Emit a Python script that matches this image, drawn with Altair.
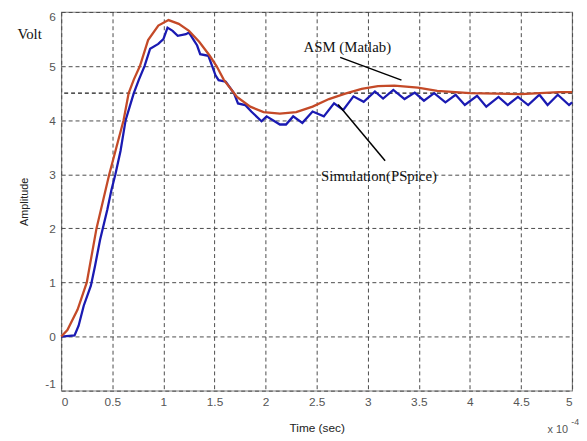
import altair as alt
import pandas as pd

# ASM (Matlab) curve, time in units of 1e-4 s
asm_t = [0, 0.06, 0.16, 0.25, 0.345, 0.47, 0.54, 0.61, 0.66, 0.71, 0.77, 0.85, 0.95, 1.05,
         1.15, 1.25, 1.35, 1.45, 1.52, 1.59, 1.72, 1.85, 1.98, 2.14, 2.30, 2.46, 2.62,
         2.78, 2.94, 3.10, 3.26, 3.49, 3.68, 4.0, 4.5, 4.87, 5.0]
asm_v = [0, 0.12, 0.5, 1.0, 2.0, 3.0, 3.5, 4.0, 4.5, 4.75, 5.0, 5.48, 5.75, 5.85,
         5.78, 5.65, 5.45, 5.2, 5.0, 4.75, 4.43, 4.25, 4.15, 4.12, 4.15, 4.25, 4.39,
         4.49, 4.58, 4.63, 4.64, 4.6, 4.54, 4.5, 4.48, 4.52, 4.52]

# Simulation (PSpice) curve
sim_t = [0, 0.13, 0.17, 0.22, 0.29, 0.33, 0.38, 0.45, 0.49, 0.53, 0.58, 0.63, 0.67, 0.71,
         0.76, 0.815, 0.87, 0.95, 1.0, 1.04, 1.09, 1.14, 1.22, 1.25, 1.33, 1.36, 1.44,
         1.51, 1.54, 1.61, 1.69, 1.73, 1.80, 1.86, 1.96, 2.01, 2.14, 2.20, 2.27, 2.36,
         2.46, 2.57, 2.67, 2.76, 2.86, 2.96, 3.07, 3.15, 3.25, 3.36, 3.46, 3.55, 3.65,
         3.76, 3.86, 3.95, 4.07, 4.16, 4.28, 4.37, 4.47, 4.57, 4.68, 4.76, 4.86, 4.97, 5.0]
sim_v = [0, 0.02, 0.2, 0.57, 0.94, 1.3, 1.79, 2.34, 2.7, 3.0, 3.43, 4.0, 4.25, 4.5,
         4.75, 5.0, 5.32, 5.41, 5.5, 5.71, 5.65, 5.56, 5.59, 5.62, 5.38, 5.22, 5.19,
         4.83, 4.74, 4.71, 4.5, 4.31, 4.28, 4.16, 3.98, 4.07, 3.92, 3.92, 4.07, 3.95,
         4.16, 4.07, 4.31, 4.19, 4.44, 4.34, 4.53, 4.40, 4.56, 4.39, 4.51, 4.36, 4.5,
         4.33, 4.47, 4.28, 4.45, 4.25, 4.43, 4.28, 4.43, 4.28, 4.47, 4.28, 4.47, 4.28, 4.33]

x_ticks = [0, 0.5, 1, 1.5, 2, 2.5, 3, 3.5, 4, 4.5, 5]
y_ticks = [-1, 0, 1, 2, 3, 4, 5, 6]

ref_level = [4.5]

notes_label = ["Volt", "ASM (Matlab)", "Simulation(PSpice)"]
notes_t = [-0.31, 2.8, 3.11]
notes_v = [5.6, 5.36, 2.97]

arrow_t = [2.73, 2.71]
arrow_v = [5.16, 4.29]
arrow_t2 = [3.33, 3.17]
arrow_v2 = [4.74, 3.25]

asm = pd.DataFrame({"t": asm_t, "v": asm_v})
sim = pd.DataFrame({"t": sim_t, "v": sim_v})
notes = pd.DataFrame({"t": notes_t, "v": notes_v, "label": notes_label})
arrows = pd.DataFrame({"t": arrow_t, "v": arrow_v, "t2": arrow_t2, "v2": arrow_v2})
ref = pd.DataFrame({"t": [0], "v": ref_level})
mult = pd.DataFrame({"t": [4.86], "v": [-1.73], "label": ["x 10"]})
expo = pd.DataFrame({"t": [5.03], "v": [-1.58], "label": ["-4"]})

xs = alt.Scale(domain=[0, 5], nice=False, zero=False)
ys = alt.Scale(domain=[-1, 6], nice=False, zero=False)

x_axis = alt.Axis(values=x_ticks, format="~g", title="Time (sec)", grid=True, gridDash=[4, 3],
                  gridColor="#4a4a4a", gridWidth=1, domain=False, ticks=False,
                  labelColor="#555555", labelFont="Liberation Sans", labelFontSize=12,
                  labelPadding=6, titleFont="Liberation Sans", titleFontSize=12,
                  titleFontWeight="normal", titleColor="#222222", titleY=32,
                  titleBaseline="top")
y_axis = alt.Axis(values=y_ticks, format="~g", title="Amplitude", grid=True, gridDash=[4, 3],
                  gridColor="#4a4a4a", gridWidth=1, domain=False, ticks=False,
                  labelExpr="replace(datum.label, '\u2212', '-')",
                  labelColor="#555555", labelFont="Liberation Sans", labelFontSize=12,
                  labelPadding=6, labelFlush=True, titleFont="Liberation Sans", titleFontSize=11,
                  titleFontWeight="normal", titleColor="#222222", titleX=-37,
                  titleY=192, titleAngle=-90, titleBaseline="middle", titleAlign="center")

X = alt.X("t:Q", scale=xs, axis=x_axis)
Y = alt.Y("v:Q", scale=ys, axis=y_axis)

red = alt.Chart(asm).mark_line(color="#c44a28", strokeWidth=2.3).encode(x=X, y=Y)
blue = alt.Chart(sim).mark_line(color="#1a1ab2", strokeWidth=2.3).encode(x=X, y=Y)
hline = alt.Chart(ref).mark_rule(color="#1a1a1a", strokeDash=[4, 3], strokeWidth=1.4).encode(y=Y)
pointers = alt.Chart(arrows).mark_rule(color="#000000", strokeWidth=1.5).encode(
    x=X, y=Y, x2="t2:Q", y2="v2:Q",
)
texts = alt.Chart(notes).mark_text(font="Liberation Serif", fontSize=15, color="#111111").encode(
    x=X, y=Y, text="label:N",
)
mult_text = alt.Chart(mult).mark_text(font="Liberation Sans", fontSize=11, color="#555555").encode(
    x=X, y=Y, text="label:N",
)
expo_text = alt.Chart(expo).mark_text(font="Liberation Sans", fontSize=9, color="#555555").encode(
    x=X, y=Y, text="label:N",
)

chart = alt.layer(hline, blue, red, pointers, texts, mult_text, expo_text).properties(
    width=518,
    height=384,
    autosize=alt.AutoSizeParams(type="none"),
    padding={"left": 54, "top": 1, "right": 7, "bottom": 48},
    background="#ffffff",
).configure_view(stroke="#808080", strokeWidth=1.2)

chart.save("out.html", embed_options={"renderer": "svg", "actions": False})
